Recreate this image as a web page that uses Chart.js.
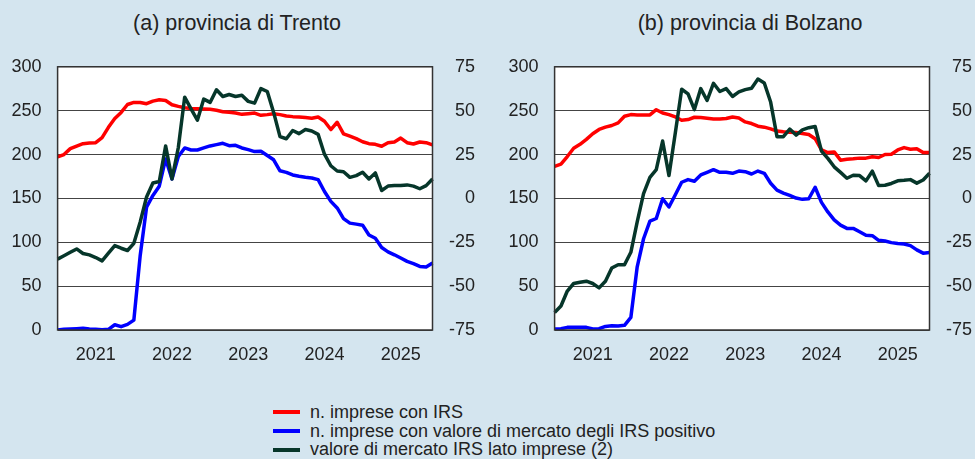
<!DOCTYPE html>
<html>
<head>
<meta charset="utf-8">
<script src="https://cdn.jsdelivr.net/npm/chart.js@4/dist/chart.umd.min.js"></script>
<style>
  body { margin: 0; width: 975px; height: 459px; background: #d4e5ef; position: relative; overflow: hidden;
         font-family: 'Liberation Sans', Arial, sans-serif; color: #222; }
  .title { position: absolute; top: 12px; font-size: 21.5px; line-height: 23px; white-space: nowrap; transform: translateX(-50%); }
  canvas { position: absolute; top: 40px; }
  #legend { position: absolute; left: 273px; top: 403px; font-size: 18px; line-height: 18.7px; }
  #legend div { display: flex; align-items: center; white-space: nowrap; }
  #legend span.sw { display: inline-block; width: 27px; height: 4px; margin-right: 10px; }
</style>
</head>
<body>
<div class="title" style="left:237px">(a) provincia di Trento</div>
<div class="title" style="left:750px">(b) provincia di Bolzano</div>
<canvas id="trento" width="475" height="320" style="left:0px;width:475px;height:320px"></canvas>
<canvas id="bolzano" width="475" height="320" style="left:497px;width:475px;height:320px"></canvas>
<div id="legend"></div>
<script>
// monthly data, Jan 2021 - Dec 2025
const years = ['2021', '2022', '2023', '2024', '2025'];

// (a) Trento
const trentoIrs = [197.3, 200, 206.7, 209.7, 212.4, 213.1, 213.5, 219.2, 231, 241, 248, 257,
  259.4, 259.4, 257.9, 260.9, 262.4, 261.6, 256.7, 254.9, 253.4, 252.6, 252.2, 251.9,
  251.5, 250.4, 248.8, 248.1, 247.3, 245.8, 246.6, 247.3, 244.7, 245.5, 246.6, 245.5,
  244, 243.2, 242.8, 242.1, 241.4, 242.8, 238, 228.5, 236.8, 223.6, 221, 218.2,
  214.6, 212.4, 211.6, 209.4, 213.5, 214.3, 218.8, 213.5, 212, 214.3, 213.5, 210.9];
const trentoPos = [0, 0.8, 1.1, 1.5, 1.9, 1.1, 0.8, 0.4, 0.8, 6, 3.8, 6.4,
  11.3, 85, 140, 153.4, 163.9, 195, 172.2, 197.7, 207.5, 205.2, 205.2, 207.5,
  209.8, 211.3, 212.8, 210.1, 210.5, 207.5, 205.6, 203.4, 203.7, 198.9, 194, 181.5,
  179.7, 176.7, 175.2, 174, 173.3, 171.4, 157.9, 146.6, 139.1, 127, 121.8, 120.7,
  119.5, 108.3, 104.5, 94, 89.1, 85.7, 82, 78.2, 75.6, 72.5, 71.8, 76.3];
const trentoMkt = [-34.6, -32.7, -30.7, -28.8, -31.4, -32.2, -33.7, -35.6, -31.2, -26.9, -28.4, -29.7,
  -25.6, -13.4, 0.8, 8.8, 9.6, 29.9, 11.1, 29, 57.7, 51, 44.6, 56.6,
  54.7, 61.9, 58.1, 59.2, 58.1, 58.8, 55.3, 54.3, 62.6, 60.9, 49, 35.2,
  34, 38.7, 36.9, 39.3, 38.4, 36.5, 25.2, 18.6, 15.6, 15.2, 12, 13,
  14.9, 11.1, 14.5, 4.5, 7, 7.3, 7.3, 7.7, 7, 5.5, 7.3, 11.1];

// (b) Bolzano
const bolzanoIrs = [186.5, 189.1, 197.7, 207.1, 211.6, 217.3, 223.7, 228.6, 231.2, 233.1, 236.1, 243.6,
  245.5, 245.1, 245.1, 245.1, 251.1, 247.4, 245.5, 242.8, 239.1, 239.8, 242.5, 242.1,
  241.3, 240.6, 240.6, 241, 242.8, 241.7, 237.2, 235.3, 232.3, 231.2, 229.3, 226.7,
  225.9, 225.5, 225.2, 224, 222.9, 218, 205.2, 202.2, 203, 193.6, 194.7, 195.1,
  195.9, 195.9, 197.4, 196.6, 200, 200.4, 205.2, 207.9, 206, 206.7, 202.2, 202.2];
const bolzanoPos = [1.1, 1.5, 3, 3, 3, 3, 1.1, 1.5, 4.1, 4.9, 4.5, 5.3,
  14.3, 72, 104, 124, 127.1, 149.6, 140.2, 154.1, 168.4, 171.4, 169.5, 176.7,
  179.7, 182.7, 179.7, 179.7, 178.6, 181.2, 180.5, 177.8, 181.2, 178.6, 167.3, 159.4,
  156, 153.4, 150.4, 148.9, 149.6, 162.7, 145.5, 134.6, 125.5, 119.5, 115.8, 115.8,
  112, 107.9, 107.5, 102.2, 101.5, 99.6, 98.5, 98.1, 96.2, 91.3, 87.6, 88.4];
const bolzanoMkt = [-65, -61.3, -52.8, -48.5, -47.8, -47.2, -48.5, -51, -47.2, -39.7, -37.8, -37.8,
  -30.7, -13.4, 2.7, 12, 16.4, 32.7, 13, 37.4, 62.2, 59.6, 50.6, 62.6,
  55.8, 65.6, 60.9, 62.6, 58.1, 60.7, 62, 62.8, 68, 65.8, 54.9, 35.2,
  35.2, 39.5, 36.1, 39.1, 40.3, 41, 27, 22.8, 18, 14.8, 11.5, 13.2,
  13, 10, 15.5, 7.3, 7.5, 8.5, 10, 10.3, 10.7, 8.7, 10.5, 14.3];

const seriesNames = ['n. imprese con IRS',
                     'n. imprese con valore di mercato degli IRS positivo',
                     'valore di mercato IRS lato imprese (2)'];
const colors = ['#ff0000', '#0000ff', '#06362a'];

const months = [];
years.forEach(y => { for (let m = 1; m <= 12; m++) months.push(y + '-' + String(m).padStart(2, '0')); });

Chart.defaults.font.family = "'Liberation Sans', Arial, sans-serif";
Chart.defaults.font.size = 18;
Chart.defaults.color = '#222';

// white plot area + dark frame
const plotFrame = {
  id: 'plotFrame',
  beforeDraw(chart) {
    const { ctx, chartArea: a } = chart;
    ctx.save();
    ctx.fillStyle = '#fff';
    ctx.fillRect(a.left, a.top, a.right - a.left, a.bottom - a.top);
    ctx.restore();
  },
  afterDraw(chart) {
    const { ctx, chartArea: a } = chart;
    ctx.save();
    ctx.strokeStyle = '#333';
    ctx.lineWidth = 1.5;
    ctx.strokeRect(a.left, a.top, a.right - a.left, a.bottom - a.top);
    ctx.restore();
  }
};

function makeChart(id, irs, pos, mkt) {
  return new Chart(document.getElementById(id), {
    type: 'line',
    data: {
      labels: months,
      datasets: [
        { label: seriesNames[0], data: irs, borderColor: colors[0], yAxisID: 'y', order: 3 },
        { label: seriesNames[1], data: pos, borderColor: colors[1], yAxisID: 'y', order: 2 },
        { label: seriesNames[2], data: mkt, borderColor: colors[2], yAxisID: 'y1', order: 1 }
      ]
    },
    options: {
      responsive: false,
      animation: false,
      layout: { padding: { top: 23, left: 0, right: 0, bottom: 0 } },
      elements: {
        line: { borderWidth: 3.5, tension: 0, borderJoinStyle: 'round' },
        point: { radius: 0 }
      },
      plugins: { legend: { display: false }, tooltip: { enabled: false } },
      scales: {
        x: {
          offset: false,
          grid: { display: false },
          border: { display: false },
          ticks: {
            autoSkip: false, maxRotation: 0, padding: 6,
            callback: (v, i) => (i % 12 === 6 ? years[Math.floor(i / 12)] : '')
          },
          afterFit: s => { s.height = 30; }
        },
        y: {
          position: 'left', min: 0, max: 300,
          grid: { color: '#444', lineWidth: 1, drawTicks: false },
          border: { display: false },
          ticks: { stepSize: 50, padding: 16 },
          afterFit: s => { s.width = 57.6; }
        },
        y1: {
          position: 'right', min: -75, max: 75,
          grid: { display: false, drawTicks: false },
          border: { display: false },
          ticks: { stepSize: 25, crossAlign: 'far' },
          afterFit: s => { s.width = 42.5; }
        }
      }
    },
    plugins: [plotFrame]
  });
}

makeChart('trento', trentoIrs, trentoPos, trentoMkt);
makeChart('bolzano', bolzanoIrs, bolzanoPos, bolzanoMkt);

// shared legend
const legend = document.getElementById('legend');
seriesNames.forEach((name, i) => {
  const row = document.createElement('div');
  row.innerHTML = '<span class="sw" style="background:' + colors[i] + '"></span>' + name;
  legend.appendChild(row);
});
</script>
</body>
</html>
